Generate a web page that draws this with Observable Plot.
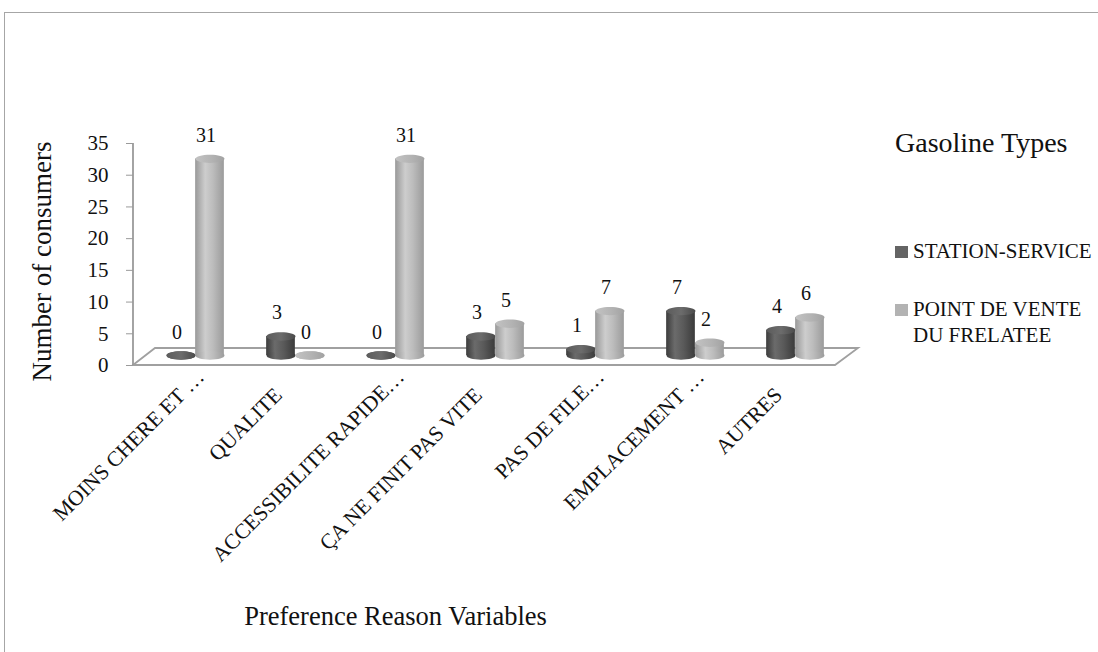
<!DOCTYPE html>
<html>
<head>
<meta charset="utf-8">
<script src="https://cdn.jsdelivr.net/npm/d3@7"></script>
<script src="https://cdn.jsdelivr.net/npm/@observablehq/plot@0.6"></script>
<style>
  body { margin: 0; background: #fff; }
  #wrap { position: relative; width: 1098px; height: 652px; overflow: hidden; font-family: "Liberation Serif", "DejaVu Serif", serif; color: #111; }
  #border { position: absolute; left: 4px; top: 12px; width: 1200px; height: 800px; border-left: 1px solid #a6a6a6; border-top: 1px solid #a6a6a6; }
  #chart { position: absolute; left: 0; top: 0; }
  .lg-title { position: absolute; left: 895px; top: 128.5px; font-size: 28px; line-height: 28px; white-space: nowrap; }
  .lg-swatch { position: absolute; left: 895px; width: 13px; height: 12px; }
  .lg-text { position: absolute; left: 913px; width: 185px; font-size: 21px; line-height: 26px; }
</style>
</head>
<body>
<svg width="0" height="0" style="position:absolute">
  <defs>
    <linearGradient id="darkBody" x1="0" x2="1" y1="0" y2="0">
      <stop offset="0%" stop-color="#3c3c3c"/>
      <stop offset="30%" stop-color="#6b6b6b"/>
      <stop offset="60%" stop-color="#5a5a5a"/>
      <stop offset="100%" stop-color="#3b3b3b"/>
    </linearGradient>
    <linearGradient id="darkTop" x1="0" x2="1" y1="0" y2="0">
      <stop offset="0%" stop-color="#5c5c5c"/>
      <stop offset="50%" stop-color="#6c6c6c"/>
      <stop offset="100%" stop-color="#4a4a4a"/>
    </linearGradient>
    <linearGradient id="lightBody" x1="0" x2="1" y1="0" y2="0">
      <stop offset="0%" stop-color="#999999"/>
      <stop offset="35%" stop-color="#cdcdcd"/>
      <stop offset="62%" stop-color="#bcbcbc"/>
      <stop offset="100%" stop-color="#9b9b9b"/>
    </linearGradient>
    <linearGradient id="lightTop" x1="0" x2="1" y1="0" y2="0">
      <stop offset="0%" stop-color="#c2c2c2"/>
      <stop offset="55%" stop-color="#b3b3b3"/>
      <stop offset="100%" stop-color="#a2a2a2"/>
    </linearGradient>
  </defs>
</svg>
<div id="wrap">
  <div id="border"></div>
  <div id="chart"></div>
  <div id="legend"></div>
</div>
<script>
// Preference reasons (x categories) and the two gasoline sources
const categories = [
  "MOINS CHERE ET …",
  "QUALITE",
  "ACCESSIBILITE RAPIDE…",
  "ÇA NE FINIT PAS VITE",
  "PAS DE FILE…",
  "EMPLACEMENT …",
  "AUTRES"
];
const seriesNames = ["STATION-SERVICE", "POINT DE VENTE DU FRELATEE"];
const stationService = [0, 3, 0, 3, 1, 7, 4];
const pointDeVente = [31, 0, 31, 5, 7, 2, 6];
const yTicks = [0, 5, 10, 15, 20, 25, 30, 35];

const yTitle = "Number of consumers";
const xTitle = "Preference Reason Variables";
const legendTitle = "Gasoline Types";

// Long-form table built from the arrays above
const rows = categories.flatMap((category, i) => [
  {category, series: seriesNames[0], value: stationService[i]},
  {category, series: seriesNames[1], value: pointDeVente[i]}
]);

// Layout constants
const W = 1098, H = 652;
const marginLeft = 144, marginRight = 252, marginTop = 143, marginBottom = 287;
const barWidth = 29;          // cylinder diameter in pixels
const lift = -10;             // cylinders stand in the middle of the floor depth
const step = (W - marginLeft - marginRight) / categories.length;
const inset = (step - barWidth) / 2;

// Flat ellipse used for the top and bottom caps of each cylinder
const ellipse = {
  draw(ctx) {
    const rx = barWidth / 2, ry = 4.2, k = 0.5523;
    ctx.moveTo(rx, 0);
    ctx.bezierCurveTo(rx, ry * k, rx * k, ry, 0, ry);
    ctx.bezierCurveTo(-rx * k, ry, -rx, ry * k, -rx, 0);
    ctx.bezierCurveTo(-rx, -ry * k, -rx * k, -ry, 0, -ry);
    ctx.bezierCurveTo(rx * k, -ry, rx, -ry * k, rx, 0);
    ctx.closePath();
  }
};

const styles = [
  {series: seriesNames[0], body: "url(#darkBody)", top: "url(#darkTop)", offset: -barWidth / 2},
  {series: seriesNames[1], body: "url(#lightBody)", top: "url(#lightTop)", offset: barWidth / 2}
];

const cylinderMarks = styles.flatMap(({series, body, top, offset}) => {
  const data = rows.filter(d => d.series === series);
  return [
    Plot.barY(data, {x: "category", y: "value", fill: body, dx: offset, dy: lift, insetLeft: inset, insetRight: inset}),
    Plot.dot(data, {x: "category", y: 0, symbol: ellipse, fill: body, dx: offset, dy: lift}),
    Plot.dot(data, {x: "category", y: "value", symbol: ellipse, fill: top, dx: offset, dy: lift}),
    Plot.text(data, {x: "category", y: "value", text: d => String(d.value), dx: offset - 4, dy: lift - 17, lineAnchor: "bottom", fontSize: 20, fill: "#111"})
  ];
});

const truncated = d => d.endsWith("…");

const chart = Plot.plot({
  width: W,
  height: H,
  marginLeft, marginRight, marginTop, marginBottom,
  style: {fontFamily: "'Liberation Serif', 'DejaVu Serif', serif", color: "#111", background: "transparent", overflow: "visible"},
  x: {domain: categories, padding: 0, axis: null},
  y: {domain: [0, 35], label: null},
  marks: [
    Plot.axisY(yTicks, {anchor: "left", tickSize: 7, tickPadding: 18, dx: -11, stroke: "#9a9a9a", fill: "#111", fontSize: 21, label: null}),
    ...cylinderMarks,
    // Rotated category labels
    Plot.text(categories.filter(d => !truncated(d)), {x: d => d, frameAnchor: "bottom", rotate: -45, textAnchor: "end", lineAnchor: "middle", dx: -17, dy: 26, fontSize: 21.5, fill: "#111"}),
    Plot.text(categories.filter(truncated), {x: d => d, frameAnchor: "bottom", rotate: -45, textAnchor: "end", lineAnchor: "middle", dx: 5, dy: 8, fontSize: 21.5, fill: "#111"}),
    // Axis titles
    Plot.text([yTitle], {frameAnchor: "left", rotate: -90, textAnchor: "middle", dx: -102, dy: 7, fontSize: 27, fill: "#111"}),
    Plot.text([xTitle], {frameAnchor: "bottom", textAnchor: "middle", dx: -100, dy: 259, lineAnchor: "bottom", fontSize: 26.5, fill: "#111"})
  ]
});

// 3D floor and the value axis line, placed with the chart's own scales
const xs = chart.scale("x"), ys = chart.scale("y");
const [x0, x1] = xs.range;
const yb = ys.apply(0), yt = ys.apply(35);
const svg = d3.select(chart);
const firstMark = chart.querySelector("g");
svg.insert("polygon", () => firstMark)
  .attr("points", [[x0 - 11, yb], [x0 + 11, yb - 17], [x1 + 12, yb - 17], [x1 - 11, yb]].map(p => p.join(",")).join(" "))
  .attr("fill", "#fff")
  .attr("stroke", "#a0a0a0")
  .attr("stroke-width", 1.8);
svg.insert("line", () => firstMark)
  .attr("x1", x0 - 11).attr("x2", x0 - 11)
  .attr("y1", yt).attr("y2", yb)
  .attr("stroke", "#9a9a9a")
  .attr("stroke-width", 1.8);

document.getElementById("chart").appendChild(chart);

// Legend
const legend = document.getElementById("legend");
const swatchColors = ["#646464", "#b3b3b3"];
const itemTops = [237.9, 295.9];
legend.innerHTML = `<div class="lg-title">${legendTitle}</div>` +
  seriesNames.map((name, i) =>
    `<div class="lg-swatch" style="top:${itemTops[i] + 8}px;background:${swatchColors[i]}"></div>` +
    `<div class="lg-text" style="top:${itemTops[i]}px">${name}</div>`
  ).join("");
</script>
</body>
</html>
